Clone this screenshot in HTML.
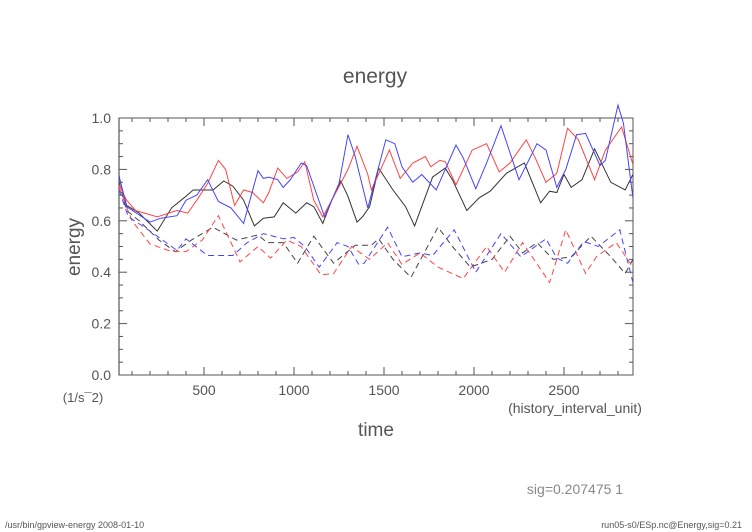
<!DOCTYPE html>
<html><head><meta charset="utf-8"><style>
body{margin:0;background:#fff;}
svg{display:block;font-family:"Liberation Sans",sans-serif;}
</style></head><body>
<svg id="chart" width="752" height="532" viewBox="0 0 752 532" xmlns="http://www.w3.org/2000/svg">
<rect width="752" height="532" fill="#fff"/>
<text x="375" y="83" font-size="21" fill="#555" text-anchor="middle">energy</text>
<text transform="translate(80,247) rotate(-90)" font-size="19" fill="#555" text-anchor="middle">energy</text>
<text x="83" y="402" font-size="13" fill="#555" text-anchor="middle">(1/s¯2)</text>
<text x="376" y="436" font-size="19" fill="#555" text-anchor="middle">time</text>
<text x="575" y="413" font-size="14" fill="#555" text-anchor="middle">(history_interval_unit)</text>
<text x="575" y="494" font-size="14" fill="#888" text-anchor="middle">sig=0.207475  1</text>
<text x="5" y="528" font-size="9" fill="#555">/usr/bin/gpview-energy  2008-01-10</text>
<text x="742" y="528" font-size="9" fill="#555" text-anchor="end">run05-s0/ESp.nc@Energy,sig=0.21</text>
<defs><clipPath id="clip"><rect x="119" y="100" width="514" height="275"/></clipPath></defs>
<g id="axes"></g>
<g id="series" clip-path="url(#clip)"></g>
</svg>
<script>
const xTicks = [500, 1000, 1500, 2000, 2500];
const xTickLabels = ["500", "1000", "1500", "2000", "2500"];
const yTicks = [0, 0.2, 0.4, 0.6, 0.8, 1.0];
const yTickLabels = ["0.0", "0.2", "0.4", "0.6", "0.8", "1.0"];

const tBlackSolid = [28,70,140,240,320,390,440,550,610,660,720,780,830,890,940,1010,1070,1110,1160,1210,1260,1300,1350,1380,1420,1470,1550,1620,1670,1770,1840,1880,1960,2030,2090,2180,2280,2370,2420,2460,2500,2540,2600,2670,2760,2840,2883];
const vBlackSolid = [.77,.66,.63,.56,.65,.69,.72,.72,.755,.735,.68,.58,.61,.615,.67,.63,.67,.655,.59,.68,.755,.695,.595,.615,.655,.805,.72,.655,.58,.77,.805,.76,.64,.69,.715,.785,.825,.67,.715,.71,.78,.73,.76,.88,.75,.72,.78];
const tRedSolid = [28,70,120,240,350,410,460,520,580,620,670,720,770,830,860,910,960,1020,1060,1110,1160,1240,1300,1350,1410,1430,1530,1590,1660,1730,1760,1810,1840,1900,1990,2070,2140,2200,2290,2340,2400,2460,2520,2580,2670,2730,2820,2883];
const vRedSolid = [.74,.68,.64,.615,.64,.63,.68,.745,.835,.80,.66,.72,.71,.67,.71,.805,.765,.79,.83,.68,.615,.72,.80,.89,.78,.72,.875,.765,.825,.85,.81,.835,.83,.74,.875,.90,.79,.825,.915,.845,.75,.785,.96,.915,.76,.875,.965,.82];
const tBlueSolid = [28,70,200,260,350,400,460,520,580,650,720,800,830,860,910,940,980,1040,1070,1170,1250,1300,1340,1410,1510,1560,1600,1660,1710,1790,1900,1940,2010,2070,2150,2200,2250,2350,2400,2460,2510,2570,2620,2700,2730,2800,2830,2883];
const vBlueSolid = [.775,.655,.595,.61,.62,.68,.70,.76,.675,.65,.59,.795,.765,.77,.76,.73,.76,.825,.815,.615,.745,.935,.85,.65,.915,.90,.81,.75,.78,.72,.895,.845,.725,.825,.97,.865,.76,.90,.875,.73,.80,.935,.94,.815,.835,1.05,.98,.69];
const tBlackDash = [28,70,140,250,340,430,550,680,800,850,940,1020,1110,1220,1340,1430,1470,1550,1650,1800,1880,1980,2100,2200,2270,2350,2440,2540,2650,2760,2840,2883];
const vBlackDash = [.75,.64,.60,.525,.48,.525,.575,.525,.545,.515,.515,.435,.54,.435,.505,.505,.53,.45,.38,.575,.50,.42,.45,.54,.475,.515,.45,.46,.54,.46,.395,.45];
const tRedDash = [28,100,200,320,400,490,580,650,700,800,870,960,1040,1150,1220,1320,1420,1520,1600,1700,1800,1940,2070,2170,2270,2420,2510,2620,2680,2790,2883];
const vRedDash = [.73,.60,.51,.48,.48,.525,.62,.515,.44,.50,.455,.525,.50,.39,.395,.50,.45,.515,.43,.475,.42,.375,.50,.40,.515,.36,.565,.395,.46,.515,.42];
const tBlueDash = [28,80,180,290,350,400,520,660,740,830,940,1000,1060,1140,1240,1300,1360,1390,1520,1600,1700,1770,1890,2010,2150,2260,2400,2460,2520,2610,2690,2810,2883];
const vBlueDash = [.72,.615,.57,.515,.485,.53,.465,.465,.515,.55,.53,.535,.50,.42,.515,.50,.43,.435,.575,.46,.475,.465,.565,.40,.55,.46,.53,.455,.435,.52,.50,.565,.36];

const NS = "http://www.w3.org/2000/svg";
const X0 = 119, X1 = 633, Y0 = 375, Y1 = 118;
function xs(t){ return 114 + t * 0.18; }
function ys(v){ return 375 - v * 257; }
const axes = document.getElementById('axes');
const seriesG = document.getElementById('series');
function mk(tag, attrs, parent){
  const e = document.createElementNS(NS, tag);
  for (const k in attrs) e.setAttribute(k, attrs[k]);
  parent.appendChild(e);
  return e;
}
const frame = mk('rect', {x:X0, y:Y1, width:X1-X0, height:Y0-Y1, fill:'none', stroke:'#555', 'stroke-width':1}, axes);


const leftAxis = mk('line', {x1:X0, y1:Y1, x2:X0, y2:Y0, stroke:'#999', 'stroke-width':2}, axes);


for (let t = 100; t <= 2800; t += 100) {
  const major = t % 500 === 0;
  const L = major ? 8 : 4;
  const a = mk('line', {x1:xs(t), y1:Y0, x2:xs(t), y2:Y0-L, stroke:'#555'}, axes);
  
  
  const b = mk('line', {x1:xs(t), y1:Y1, x2:xs(t), y2:Y1+L, stroke:'#555'}, axes);
  
  
}
for (let i = 0; i <= 20; i++) {
  const v = i * 0.05;
  const major = i % 4 === 0;
  const L = major ? 8 : 4;
  const a = mk('line', {x1:X0, y1:ys(v), x2:X0+L, y2:ys(v), stroke:'#555'}, axes);
  
  
  const b = mk('line', {x1:X1, y1:ys(v), x2:X1-L, y2:ys(v), stroke:'#555'}, axes);
  
  
}
xTicks.forEach((t, i) => {
  const tx = mk('text', {x:xs(t), y:395, 'font-size':14, fill:'#555', 'text-anchor':'middle'}, axes);
  tx.textContent = xTickLabels[i];
  
  
});
yTicks.forEach((v, i) => {
  const tx = mk('text', {x:111, y:ys(v)+5, 'font-size':14, fill:'#555', 'text-anchor':'end'}, axes);
  tx.textContent = yTickLabels[i];
  
  
});
function line(ts, vs, color, dash, name){
  const d = ts.map((t, i) => (i ? 'L' : 'M') + xs(t).toFixed(1) + ',' + ys(vs[i]).toFixed(1)).join('');
  const p = mk('path', {d:d, fill:'none', stroke:color, 'stroke-width':1, 'stroke-dasharray':dash}, seriesG);
  
  
}
line(tBlackDash, vBlackDash, '#444', '6,4', 'series-black-dashed');
line(tRedDash, vRedDash, '#f44', '6,4', 'series-red-dashed');
line(tBlueDash, vBlueDash, '#44f', '6,4', 'series-blue-dashed');
line(tBlackSolid, vBlackSolid, '#333', 'none', 'series-black-solid');
line(tRedSolid, vRedSolid, '#f44', 'none', 'series-red-solid');
line(tBlueSolid, vBlueSolid, '#44f', 'none', 'series-blue-solid');
</script>
</body></html>
